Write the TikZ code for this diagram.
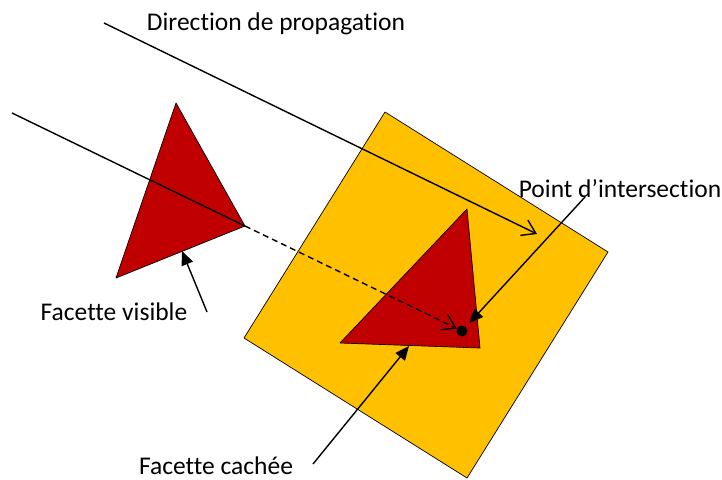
\documentclass[tikz,border=0pt]{standalone}
\usepackage{fontspec}
\setmainfont{Carlito}[Ligatures=CommonOff]
\usepackage{tikz}
\usetikzlibrary{arrows.meta}
\definecolor{planColor}{HTML}{FFC000}
\definecolor{facetColor}{HTML}{C00000}

\begin{document}
\begin{tikzpicture}[x=1pt, y=-1pt,
    label/.style={font=\fontsize{25.5}{28}\selectfont, inner sep=0pt, anchor=base},
    ray/.style={line width=1.4pt, -{Straight Barb[length=13pt, width=17pt, line width=1.4pt]}},
    pointer/.style={line width=1.4pt, -{Triangle[length=14pt, width=12pt]}},
    facet/.style={fill=facetColor, draw=black, line width=0.7pt, line join=round}]
    \useasboundingbox (0, 0) rectangle (722, 479);

    % plan de fond
    \fill[planColor, draw=black, line width=0.7pt]
        (385, 112) -- (608, 252) -- (467, 478) -- (244, 338) -- cycle;

    % facettes
    \coordinate (v1) at (176, 103);
    \coordinate (v2) at (116, 278);
    \coordinate (v3) at (245, 226);
    \coordinate (c1) at (467, 209);
    \coordinate (c2) at (340, 343);
    \coordinate (c3) at (480, 348);
    \draw[facet] (v1) -- (v2) -- (v3) -- cycle;
    \draw[facet] (c1) -- (c2) -- (c3) -- cycle;

    % rayons
    \coordinate (dir-a) at (104, 23);
    \coordinate (dir-b) at (537, 234);
    \coordinate (ray-a) at (12, 113);
    \node[circle, fill=black, inner sep=0pt, minimum size=11pt] (hit) at (462, 331) {};
    \draw[ray] (dir-a) -- (dir-b);
    \draw[line width=1.4pt] (ray-a) -- (v3);
    \draw[ray, dash pattern=on 6pt off 4pt] (v3) -- (hit);

    % textes
    \node[label] (dir) at (276, 30) {Direction de propagation};
    \node[label] (inter) at (620, 197) {Point d’intersection};
    \node[label] (visible) at (114, 320) {Facette visible};
    \node[label] (cachee) at (216, 474) {Facette cachée};

    \coordinate (inter-t) at (585, 197);
    \coordinate (visible-t) at (207, 312);
    \coordinate (visible-h) at (182, 251);
    \coordinate (cachee-t) at (313, 464);
    \coordinate (cachee-h) at (409, 346);
    \draw[pointer, shorten >=5pt] (inter-t) -- (hit);
    \draw[pointer] (visible-t) -- (visible-h);
    \draw[pointer] (cachee-t) -- (cachee-h);
\end{tikzpicture}
\end{document}
